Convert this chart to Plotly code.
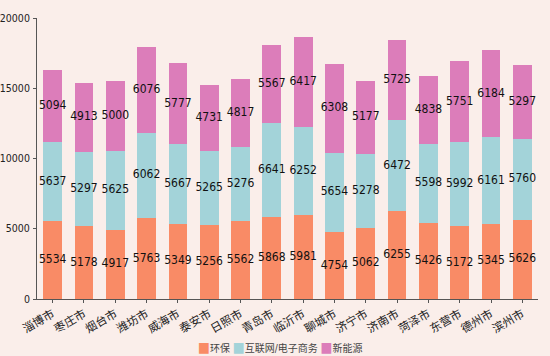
import numpy as np
import plotly.graph_objects as go

cities = ["淄博市", "枣庄市", "烟台市", "潍坊市", "威海市", "泰安市", "日照市", "青岛市",
          "临沂市", "聊城市", "济宁市", "济南市", "菏泽市", "东营市", "德州市", "滨州市"]
huanbao = [5534, 5178, 4917, 5763, 5349, 5256, 5562, 5868, 5981, 4754, 5062, 6255, 5426, 5172, 5345, 5626]
hulianwang = [5637, 5297, 5625, 6062, 5667, 5265, 5276, 6641, 6252, 5654, 5278, 6472, 5598, 5992, 6161, 5760]
xinnengyuan = [5094, 4913, 5000, 6076, 5777, 4731, 4817, 5567, 6417, 6308, 5177, 5725, 4838, 5751, 6184, 5297]
y_ticks = [0, 5000, 10000, 15000, 20000]

series = [("环保", huanbao, "#F98B66"),
          ("互联网/电子商务", hulianwang, "#A3D3D9"),
          ("新能源", xinnengyuan, "#DC7DBA")]

font_family = "DejaVu Sans Condensed, DejaVu Sans, Noto Sans CJK SC"
fig = go.Figure()
base = np.zeros(len(cities))
label_x, label_y, label_t = [], [], []
for name, vals, color in series:
    v = np.array(vals, dtype=float)
    fig.add_trace(go.Bar(x=cities, y=vals, name=name, marker=dict(color=color, line=dict(width=0))))
    label_x += cities
    label_y += list(base + v / 2)
    label_t += [str(x) for x in vals]
    base = base + v

fig.add_trace(go.Scatter(x=label_x, y=label_y, text=label_t, mode="text",
                         textfont=dict(color="#111111", size=12, family=font_family),
                         showlegend=False, hoverinfo="skip", cliponaxis=False))

# compact legend (squares + names) built from the series definitions
legend_text = "".join(
    f"<span style='color:{c};font-size:14px'>■</span>{n} " for n, _, c in series
).strip()
fig.add_annotation(xref="paper", yref="paper", x=0.485, y=-0.171, xanchor="center",
                   yanchor="middle", text=legend_text, showarrow=False,
                   font=dict(size=10, color="#444444", family=font_family))

fig.update_layout(
    barmode="stack",
    bargap=0.4,
    width=550, height=356,
    margin=dict(l=37, r=12, t=18, b=57, autoexpand=False),
    paper_bgcolor="#FAEEEA",
    plot_bgcolor="#FAEEEA",
    font=dict(family=font_family, size=11, color="#222222"),
    showlegend=False,
)
fig.update_xaxes(showline=True, linecolor="#555555", linewidth=1, ticks="outside", ticklen=3,
                 tickcolor="#555555", tickangle=-30, showgrid=False, range=[-0.5, 15.5],
                 automargin=False, tickfont=dict(size=11.5, color="#222222"))
fig.update_yaxes(showline=True, linecolor="#555555", linewidth=1, ticks="outside", ticklen=3,
                 tickcolor="#555555", showgrid=False, zeroline=False, range=[0, 20000],
                 tickvals=y_ticks, ticktext=[str(t) for t in y_ticks], ticklabelstandoff=1,
                 automargin=False, tickfont=dict(size=10.5, color="#222222"))

fig.write_html("out.html", config={"displayModeBar": False},
               post_script="document.body.style.margin='0';document.body.style.background='#FAEEEA';")
